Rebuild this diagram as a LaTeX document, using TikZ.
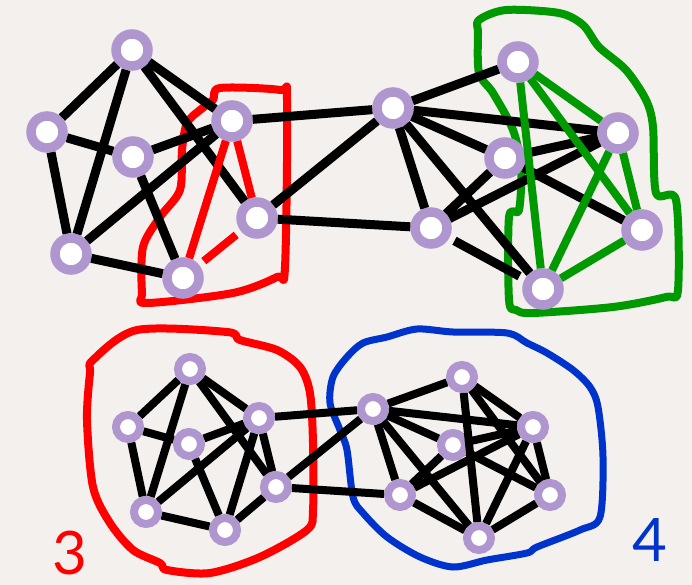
\documentclass[tikz,border=0pt]{standalone}
\usepackage{fontspec}
\setmainfont{Lato}
\definecolor{bgc}{RGB}{243,240,238}
\definecolor{ring}{RGB}{176,150,206}
\definecolor{hred}{RGB}{255,0,0}
\definecolor{hgreen}{RGB}{0,153,0}
\definecolor{hblue}{RGB}{0,51,204}
\begin{document}
\begin{tikzpicture}[x=1pt,y=-1pt,
  bignode/.style={circle,draw=ring,fill=white,line width=9.5pt,minimum size=32pt,inner sep=0pt},
  smallnode/.style={circle,draw=ring,fill=white,line width=8pt,minimum size=24pt,inner sep=0pt},
  bedge/.style={draw=black,line width=9pt},
  sedge/.style={draw=black,line width=8pt},
  redge/.style={draw=hred,line width=8pt},
  gedge/.style={draw=hgreen,line width=8pt},
  hull/.style={line width=8pt,line join=round}]
\fill[bgc] (0,0) rectangle (692,585);
\useasboundingbox (0,0) rectangle (692,585);

% hulls
\draw[hull,draw=hred] plot[smooth cycle,tension=0.5] coordinates {(213,100) (220,88) (280,90) (287,100) (285,267) (277,277) (233,293) (147,303) (142,293) (143,247) (160,217) (180,190) (182,150) (187,123) (200,110)};
\draw[hull,draw=hgreen] plot[smooth cycle,tension=0.5] coordinates {(479,20) (506,10) (559,13) (583,25) (599,47) (626,70) (646,100) (653,127) (656,193) (676,200) (678,290) (666,297) (613,307) (533,313) (516,310) (509,300) (509,217) (519,210) (521,167) (513,130) (493,93) (479,73) (478,33)};
\draw[hull,draw=hred] plot[smooth cycle,tension=0.5] coordinates {(93,360) (137,330) (227,332) (240,340) (277,350) (300,367) (310,393) (313,443) (313,510) (307,530) (260,557) (210,573) (167,570) (160,563) (133,550) (110,523) (93,487) (87,420) (90,373)};
\draw[hull,draw=hblue,line width=7pt] plot[smooth cycle,tension=0.5] coordinates {(330,403) (333,377) (347,357) (363,343) (387,337) (417,329) (453,332) (507,333) (527,343) (547,353) (573,370) (590,387) (598,407) (603,457) (600,517) (580,530) (537,547) (527,553) (487,560) (453,567) (420,557) (387,537) (363,513) (353,497) (347,450) (340,430)};

% top nodes
\node[bignode] (A1) at (132,50) {};
\node[bignode] (A2) at (47,132) {};
\node[bignode] (A3) at (133,157) {};
\node[bignode] (A4) at (71,254) {};
\node[bignode] (A5) at (232,121) {};
\node[bignode] (A6) at (257,218) {};
\node[bignode] (A7) at (183,278) {};
\node[bignode] (B1) at (393,108) {};
\node[bignode] (B2) at (505,158) {};
\node[bignode] (B3) at (431,228) {};
\node[bignode] (G1) at (518,62) {};
\node[bignode] (G2) at (618,133) {};
\node[bignode] (G3) at (642,230) {};
\node[bignode] (G4) at (543,289) {};

% bottom nodes
\node[smallnode] (C1) at (190,369) {};
\node[smallnode] (C2) at (128,427) {};
\node[smallnode] (C3) at (189,444) {};
\node[smallnode] (C4) at (259,418) {};
\node[smallnode] (C5) at (276,487) {};
\node[smallnode] (C6) at (146,512) {};
\node[smallnode] (C7) at (225,530) {};
\node[smallnode] (D1) at (373,409) {};
\node[smallnode] (D2) at (462,377) {};
\node[smallnode] (D3) at (453,445) {};
\node[smallnode] (D4) at (400,495) {};
\node[smallnode] (D5) at (533,427) {};
\node[smallnode] (D6) at (550,495) {};
\node[smallnode] (D7) at (479,538) {};

% top edges
\foreach \a/\b in {A1/A2,A1/A4,A1/A5,A1/A6,A2/A3,A2/A4,A3/A5,A3/A7,A4/A5,A4/A7,A5/B1,A6/B1,A6/B3,
  B1/G1,B1/G2,B1/B2,B1/B3,B1/G4,B2/B3,B2/G2,B2/G3,B3/G2}
  \draw[bedge] (\a) -- (\b);
\draw[bedge,shorten <=6pt,shorten >=6pt] (B3) -- (G4);
\foreach \a/\b in {A5/A7,A5/A6}
  \draw[redge] (\a) -- (\b);
\draw[redge,shorten <=6pt,shorten >=6pt] (A6) -- (A7);
\foreach \a/\b in {G1/G2,G1/G3,G1/G4,G2/G4,G2/G3,G3/G4}
  \draw[gedge] (\a) -- (\b);

% bottom edges
\foreach \a/\b in {C1/C2,C1/C6,C1/C4,C1/C5,C2/C3,C2/C6,C3/C4,C3/C7,C6/C4,C4/C7,C4/C5,C6/C7,C7/C5,C4/D1,C5/D1,C5/D4,
  D1/D2,D1/D5,D1/D3,D1/D4,D1/D7,D2/D5,D2/D7,D2/D6,D3/D5,D3/D4,D3/D6,D4/D5,D4/D7,D5/D7,D5/D6,D6/D7}
  \draw[sedge] (\a) -- (\b);

% labels
\node[text=hred,font=\fontsize{60}{60}\selectfont,inner sep=0pt] (L3) at (70,553) {3};
\node[text=hblue,font=\fontsize{60}{60}\selectfont,inner sep=0pt] (L4) at (650,540) {4};
\end{tikzpicture}
\end{document}
